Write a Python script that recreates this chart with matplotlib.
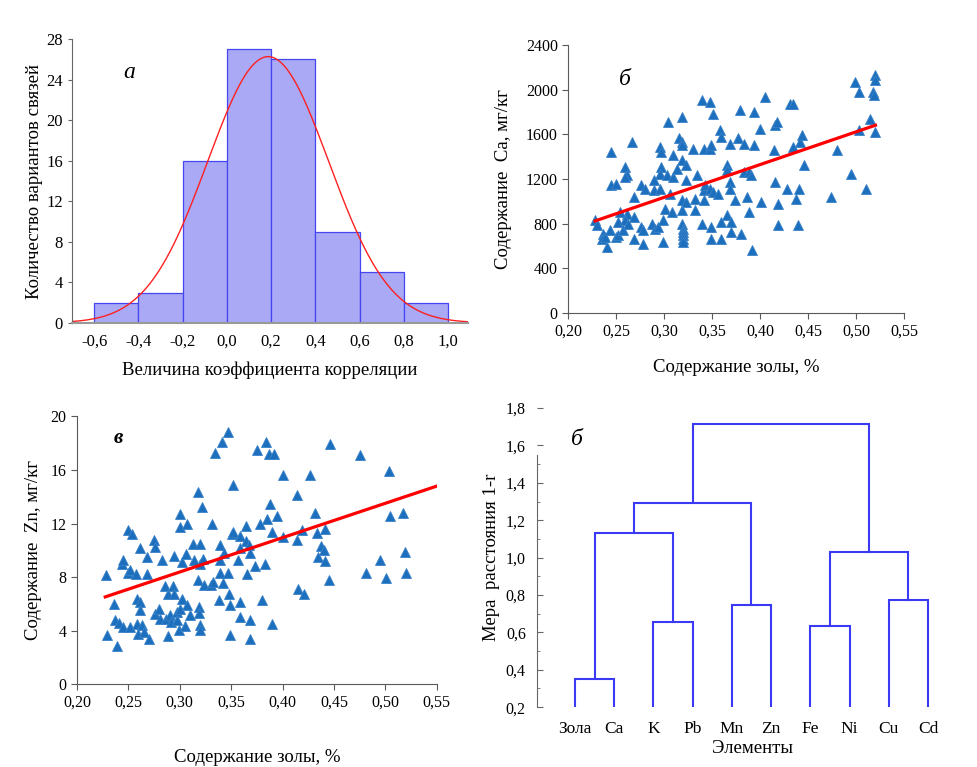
import numpy as np
import matplotlib
matplotlib.use("Agg")
import matplotlib.pyplot as plt

plt.rcParams['font.family'] = ['Liberation Serif', 'DejaVu Serif']

# --- panel a: histogram of correlation coefficients ---
bin_edges = [-0.6, -0.4, -0.2, 0.0, 0.2, 0.4, 0.6, 0.8, 1.0]
bin_counts = [2, 3, 16, 27, 26, 9, 5, 2]

# --- panel б: ash vs Ca ---
ca_x = [0.228, 0.23, 0.236, 0.235, 0.24, 0.238, 0.243, 0.245, 0.245, 0.25,
        0.25, 0.254, 0.252, 0.252, 0.259, 0.261, 0.259, 0.261, 0.259, 0.257,
        0.262, 0.266, 0.268, 0.268, 0.269, 0.276, 0.276, 0.278, 0.28, 0.278,
        0.287, 0.289, 0.289, 0.29, 0.294, 0.296, 0.297, 0.297, 0.296, 0.296,
        0.299, 0.301, 0.299, 0.303, 0.304, 0.306, 0.308, 0.309, 0.309, 0.313,
        0.315, 0.318, 0.318, 0.318, 0.318, 0.318, 0.318, 0.318, 0.32, 0.32,
        0.32, 0.32, 0.32, 0.323, 0.323, 0.323, 0.33, 0.332, 0.334, 0.332,
        0.339, 0.339, 0.341, 0.341, 0.341, 0.342, 0.348, 0.348, 0.349, 0.348,
        0.349, 0.349, 0.351, 0.351, 0.356, 0.358, 0.359, 0.359, 0.359, 0.365,
        0.365, 0.365, 0.369, 0.369, 0.369, 0.37, 0.37, 0.374, 0.377, 0.379,
        0.38, 0.383, 0.383, 0.386, 0.388, 0.388, 0.39, 0.391, 0.393, 0.394,
        0.4, 0.401, 0.405, 0.414, 0.415, 0.415, 0.417, 0.419, 0.419, 0.428,
        0.431, 0.434, 0.434, 0.437, 0.439, 0.44, 0.441, 0.444, 0.446, 0.474,
        0.48, 0.495, 0.499, 0.503, 0.503, 0.51, 0.514, 0.517, 0.519, 0.52,
        0.52, 0.52]
ca_y = [830, 786, 711, 667, 592, 680, 741, 1444, 1145, 680,
        1160, 906, 816, 697, 1309, 1235, 1220, 891, 831, 741,
        801, 1534, 1040, 861, 667, 1145, 771, 622, 1115, 741,
        801, 1190, 1100, 756, 771, 1489, 1444, 1309, 1250, 1115,
        831, 936, 637, 1235, 1713, 1070, 906, 1414, 1220, 1294,
        1564, 1758, 1534, 1504, 1369, 1010, 921, 801, 756, 726,
        696, 666, 640, 1324, 1190, 995, 1474, 921, 1235, 1025,
        1907, 801, 1474, 1100, 1010, 1145, 1892, 1474, 1504, 1115,
        771, 667, 1788, 1085, 1070, 1638, 1579, 667, 816, 1324,
        1280, 876, 1519, 1175, 1115, 816, 726, 1010, 1564, 1818,
        711, 1519, 1265, 1040, 906, 1265, 1235, 562, 1803, 1504,
        1653, 995, 1937, 1459, 1683, 1175, 1713, 980, 786, 1115,
        1877, 1877, 1489, 1025, 786, 1115, 1534, 1594, 1324, 1040,
        1459, 1250, 2072, 1982, 1638, 1115, 1743, 1982, 1952, 2132,
        2087, 1623]
ca_line_x = [0.228, 0.52]
ca_line_y = [825, 1683]

# --- panel в: ash vs Zn ---
zn_x = [0.2285, 0.229, 0.236, 0.237, 0.239, 0.241, 0.244, 0.245, 0.245, 0.25,
        0.25, 0.252, 0.252, 0.254, 0.257, 0.258, 0.258, 0.259, 0.261, 0.261,
        0.261, 0.263, 0.265, 0.268, 0.268, 0.27, 0.275, 0.276, 0.276, 0.28,
        0.281, 0.283, 0.286, 0.287, 0.289, 0.289, 0.29, 0.291, 0.293, 0.294,
        0.294, 0.297, 0.297, 0.299, 0.3, 0.3, 0.3, 0.302, 0.302, 0.305,
        0.306, 0.307, 0.307, 0.31, 0.313, 0.314, 0.318, 0.318, 0.319, 0.319,
        0.32, 0.32, 0.32, 0.32, 0.322, 0.323, 0.324, 0.331, 0.33, 0.332,
        0.334, 0.338, 0.339, 0.339, 0.339, 0.341, 0.342, 0.343, 0.347, 0.347,
        0.348, 0.349, 0.349, 0.351, 0.352, 0.352, 0.357, 0.359, 0.359, 0.359,
        0.359, 0.364, 0.364, 0.365, 0.367, 0.368, 0.368, 0.368, 0.373, 0.375,
        0.378, 0.38, 0.383, 0.384, 0.385, 0.387, 0.388, 0.39, 0.39, 0.392,
        0.395, 0.4, 0.4, 0.414, 0.414, 0.415, 0.419, 0.421, 0.427, 0.431,
        0.433, 0.434, 0.437, 0.44, 0.441, 0.441, 0.445, 0.446, 0.475, 0.481,
        0.495, 0.501, 0.503, 0.504, 0.517, 0.519, 0.52]
zn_y = [8.13, 3.66, 6.02, 4.83, 2.84, 4.58, 9.0, 9.3, 4.28, 11.5,
        8.31, 8.5, 4.28, 11.2, 8.26, 4.53, 6.39, 3.78, 10.2, 6.14,
        5.52, 4.4, 3.9, 9.5, 8.21, 3.41, 10.75, 10.25, 5.27, 5.65,
        4.9, 9.3, 7.31, 4.9, 6.72, 3.58, 5.15, 4.65, 7.31, 6.77,
        9.55, 5.4, 4.78, 4.08, 11.74, 12.69, 5.65, 6.39, 9.13, 4.33,
        9.75, 11.99, 5.9, 5.15, 10.5, 9.3, 14.35, 7.76, 5.77, 5.32,
        4.4, 4.08, 10.5, 9.0, 13.23, 9.38, 7.39, 11.99, 7.39, 7.64,
        17.26, 6.32, 10.37, 9.3, 8.31, 18.08, 7.56, 9.8, 18.83, 8.31,
        6.77, 3.66, 5.9, 11.19, 14.85, 11.37, 9.25, 6.14, 5.02, 10.2,
        11.04, 11.79, 10.7, 8.21, 10.37, 9.8, 4.78, 3.41, 8.81, 17.46,
        11.94, 6.32, 8.96, 18.08, 12.36, 17.21, 13.43, 11.37, 4.53, 17.21,
        12.54, 15.6, 11.0, 14.1, 10.8, 7.14, 11.5, 6.77, 15.6, 12.79,
        11.29, 9.5, 10.3, 10.0, 11.62, 9.2, 7.76, 17.91, 17.09, 8.31,
        9.3, 7.96, 15.9, 12.54, 12.79, 9.88, 8.31]
zn_line_x = [0.2275, 0.55]
zn_line_y = [6.52, 14.8]

# --- panel б (dendrogram) ---
elements = ['Зола', 'Ca', 'K', 'Pb', 'Mn', 'Zn', 'Fe', 'Ni', 'Cu', 'Cd']
# (left node, right node, height); leaves are 0..9, new nodes numbered from 10
links = [(0, 1, 0.352), (6, 7, 0.635), (2, 3, 0.653), (4, 5, 0.746),
         (8, 9, 0.771), (11, 14, 1.028), (10, 12, 1.129), (16, 13, 1.292),
         (17, 15, 1.715)]

marker_color = '#1c6fbd'


def comma(v, p):
    return ('%.2f' % v).replace('.', ',')


fig = plt.figure(figsize=(9.78, 7.67), dpi=100)

# ---------- a ----------
ax1 = fig.add_axes([0.0736, 0.579, 0.405, 0.370])
centers = [(bin_edges[i] + bin_edges[i + 1]) / 2 for i in range(len(bin_counts))]
ax1.bar(centers, bin_counts, width=0.2, color='#a9a9f5', edgecolor='#4646f0',
        linewidth=0.9)
n_tot = sum(bin_counts)
mu = np.average(centers, weights=bin_counts)
sd = np.sqrt(np.average((np.array(centers) - mu) ** 2, weights=bin_counts))
xs = np.linspace(-0.7, 1.1, 300)
pdf = n_tot * 0.2 / (sd * np.sqrt(2 * np.pi)) * np.exp(-0.5 * ((xs - mu) / sd) ** 2)
ax1.plot(xs, pdf, color='#ff2020', lw=1.0)
ax1.set_xlim(-0.7, 1.09)
ax1.set_ylim(0, 28)
ax1.set_yticks(range(0, 29, 4))
ax1.set_xticks(bin_edges)
ax1.set_xticklabels([('%.1f' % v).replace('.', ',') for v in bin_edges])
ax1.spines[['top', 'right']].set_visible(False)
ax1.spines['bottom'].set_color('#999999')
ax1.spines['bottom'].set_linewidth(1.5)
ax1.spines['left'].set_color('#666666')
ax1.tick_params(axis='x', length=0, labelsize=12, pad=8)
ax1.tick_params(axis='y', length=3, labelsize=12, color='#666666')
ax1.set_xlabel('Величина коэффициента корреляции', fontsize=13.5, labelpad=8)
ax1.set_ylabel('Количество вариантов связей', fontsize=13.5, labelpad=2)
ax1.text(-0.47, 24.2, 'а', fontsize=17, style='italic')

# ---------- б scatter ----------
ax2 = fig.add_axes([0.581, 0.592, 0.3436, 0.349])
ax2.plot(ca_x, ca_y, '^', color=marker_color, ms=7.5, mec='#3a82c8', mew=0.6,
         linestyle='none')
ax2.plot(ca_line_x, ca_line_y, color='#ff0000', lw=2.3)
ax2.set_xlim(0.20, 0.55)
ax2.set_ylim(0, 2400)
ax2.set_xticks(np.arange(0.20, 0.551, 0.05))
ax2.set_yticks(range(0, 2401, 400))
ax2.xaxis.set_major_formatter(comma)
ax2.spines[['top', 'right']].set_visible(False)
for s in ['left', 'bottom']:
    ax2.spines[s].set_color('#595959')
ax2.tick_params(length=4, labelsize=11.5, color='#595959')
ax2.set_xlabel('Содержание золы, %', fontsize=13.5, labelpad=14)
ax2.set_ylabel('Содержание  Ca, мг/кг', fontsize=13.5, labelpad=10)
ax2.text(0.253, 2045, 'б', fontsize=17, style='italic')

# ---------- в scatter ----------
ax3 = fig.add_axes([0.0787, 0.108, 0.368, 0.349])
ax3.plot(zn_x, zn_y, '^', color=marker_color, ms=7.5, mec='#3a82c8', mew=0.6,
         linestyle='none')
ax3.plot(zn_line_x, zn_line_y, color='#ff0000', lw=2.3)
ax3.set_xlim(0.20, 0.55)
ax3.set_ylim(0, 20)
ax3.set_xticks(np.arange(0.20, 0.551, 0.05))
ax3.set_yticks(range(0, 21, 4))
ax3.xaxis.set_major_formatter(comma)
ax3.spines[['top', 'right']].set_visible(False)
for s in ['left', 'bottom']:
    ax3.spines[s].set_color('#595959')
ax3.tick_params(length=4, labelsize=11.5, color='#595959')
ax3.set_xlabel('Содержание золы, %', fontsize=13.5, labelpad=28)
ax3.set_ylabel('Содержание  Zn, мг/кг', fontsize=13.5, labelpad=6)
ax3.text(0.236, 18.0, 'в', fontsize=15, style='italic', fontweight='bold')

# ---------- dendrogram ----------
ax4 = fig.add_axes([0.549, 0.078, 0.44, 0.39])
node_x = {i: float(i) for i in range(len(elements))}
node_h = {i: 0.2 for i in range(len(elements))}
for k, (a, b, h) in enumerate(links):
    xa, xb = node_x[a], node_x[b]
    ax4.plot([xa, xa, xb, xb], [node_h[a], h, h, node_h[b]], color='#3a3af5',
             lw=1.5, solid_joinstyle='miter')
    nid = len(elements) + k
    node_x[nid] = (xa + xb) / 2
    node_h[nid] = h
ax4.set_xlim(-0.97, 10)
ax4.set_ylim(0.2, 1.8)
ax4.set_xticks(range(len(elements)))
ax4.set_xticklabels(elements)
ax4.set_yticks(np.arange(0.2, 1.81, 0.2))
ax4.set_yticks(np.arange(0.3, 1.6, 0.2), minor=True)
ax4.yaxis.set_major_formatter(lambda v, p: ('%.1f' % v).replace('.', ','))
ax4.spines[['top', 'right', 'bottom']].set_visible(False)
ax4.spines['left'].set_bounds(0.2, 1.55)
ax4.spines['left'].set_color('#666666')
ax4.tick_params(axis='x', length=0, labelsize=12.5, pad=10)
ax4.tick_params(axis='y', which='both', direction='in', color='#666666',
                labelsize=11.5, pad=8)
ax4.tick_params(axis='y', which='major', length=4)
ax4.tick_params(axis='y', which='minor', length=2)
ax4.set_xlabel('Элементы', fontsize=13.5, labelpad=2)
ax4.set_ylabel('Мера  расстояния 1-r', fontsize=13.5, labelpad=4)
ax4.text(-0.1, 1.6, 'б', fontsize=17, style='italic')

fig.savefig('out.png', dpi=100)
